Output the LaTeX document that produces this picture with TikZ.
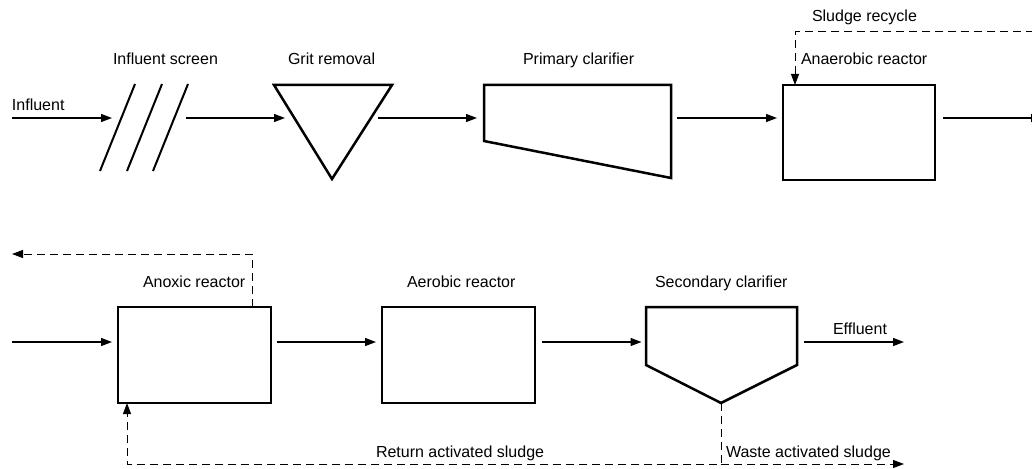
\documentclass[tikz,border=0pt]{standalone}
\usepackage{fontspec}
\setmainfont{Liberation Sans}
\usetikzlibrary{arrows.meta}
\begin{document}
\begin{tikzpicture}[x=1pt,y=-1pt,
  unit/.style={draw=black, line width=2.5pt, inner sep=0pt, outer sep=0pt},
  port/.style={inner sep=0pt, outer sep=0pt},
  outline/.style={line width=2.5pt, line join=miter},
  flow/.style={line width=1.3pt, -{Triangle[length=11pt,width=8pt]}},
  recycle/.style={line width=1pt, dash pattern=on 8pt off 5pt, -{Triangle[length=11pt,width=8pt]}},
  lbl/.style={anchor=base west, inner sep=0pt, outer sep=0pt, font=\fontsize{16}{19}\selectfont}]
\useasboundingbox (0,0) rectangle (1032,468);
% named units
\node[port, minimum width=74pt, minimum height=87pt] (screen) at (149,127.5) {};
\node[port, minimum width=93pt, minimum height=94pt] (grit) at (331.5,132) {};
\node[port, minimum width=200pt, minimum height=93pt] (pclar) at (577,131.5) {};
\node[unit, minimum width=152pt, minimum height=95pt] (anaer) at (859,132.5) {};
\node[unit, minimum width=153pt, minimum height=96pt] (anox) at (194.5,355) {};
\node[unit, minimum width=153pt, minimum height=96pt] (aer) at (458.5,355) {};
\node[port, minimum width=151pt, minimum height=96pt] (sclar) at (721,355) {};
% helper coordinates
\coordinate (row1) at (0,118);
\coordinate (row2) at (0,342);
\coordinate (inf) at (12,118);
\coordinate (out1) at (1042,118);
\coordinate (srin) at (1034,32);
\coordinate (in2) at (12,342);
\coordinate (nrout) at (12,254);
\coordinate (eff) at (904,342);
\coordinate (was) at (904,464);
\coordinate (sludge) at (721,464);
% shapes
\draw[line width=2pt] (100,171) -- (135,84);
\draw[line width=2pt] (127,171) -- (162,84);
\draw[line width=2pt] (153,171) -- (188,84);
\draw[outline] (274,85) -- (392,85) -- (332,179) -- cycle;
\draw[outline] (484,85) -- (671,85) -- (671,178) -- (484,141) -- cycle;
\draw[outline] (646,307) -- (797,307) -- (797,365) -- (721,403) -- (646,365) -- cycle;
% connectors top row
\draw[flow] (inf) -- (screen.west |- row1);
\draw[flow] (screen.east |- row1) -- (grit.west |- row1);
\draw[flow] (grit.east |- row1) -- (pclar.west |- row1);
\draw[flow, shorten >=6pt] (pclar.east |- row1) -- (anaer.west |- row1);
\draw[flow, shorten <=8pt] (anaer.east |- row1) -- (out1);
\draw[recycle] (srin) -| ([xshift=12pt]anaer.north west);
% connectors bottom row
\draw[flow, shorten >=6pt] (in2) -- (anox.west |- row2);
\draw[flow, shorten <=6pt, shorten >=6pt] (anox.east |- row2) -- (aer.west |- row2);
\draw[flow, shorten <=7pt, shorten >=4pt] (aer.east |- row2) -- (sclar.west |- row2);
\draw[flow, shorten <=7pt] (sclar.east |- row2) -- (eff);
\draw[recycle] ([xshift=-19pt]anox.north east) |- (nrout);
\draw[recycle] (sclar.south) -- (sludge) -| ([xshift=9pt]anox.south west);
\draw[recycle] (sludge) -- (was);
% labels
\node[lbl] (tInf) at (12,110.5) {Influent};
\node[lbl] (tScreen) at (113,65) {Influent screen};
\node[lbl] (tGrit) at (288,65) {Grit removal};
\node[lbl] (tPclar) at (523,65) {Primary clarifier};
\node[lbl] (tSludge) at (812,22) {Sludge recycle};
\node[lbl] (tAnaer) at (801,65) {Anaerobic reactor};
\node[lbl] (tAnox) at (143,287) {Anoxic reactor};
\node[lbl] (tAer) at (407,287) {Aerobic reactor};
\node[lbl] (tSclar) at (655,287) {Secondary clarifier};
\node[lbl] (tEff) at (833,334) {Effluent};
\node[lbl] (tRas) at (376,457) {Return activated sludge};
\node[lbl] (tWas) at (726,457) {Waste activated sludge};
\end{tikzpicture}
\end{document}
